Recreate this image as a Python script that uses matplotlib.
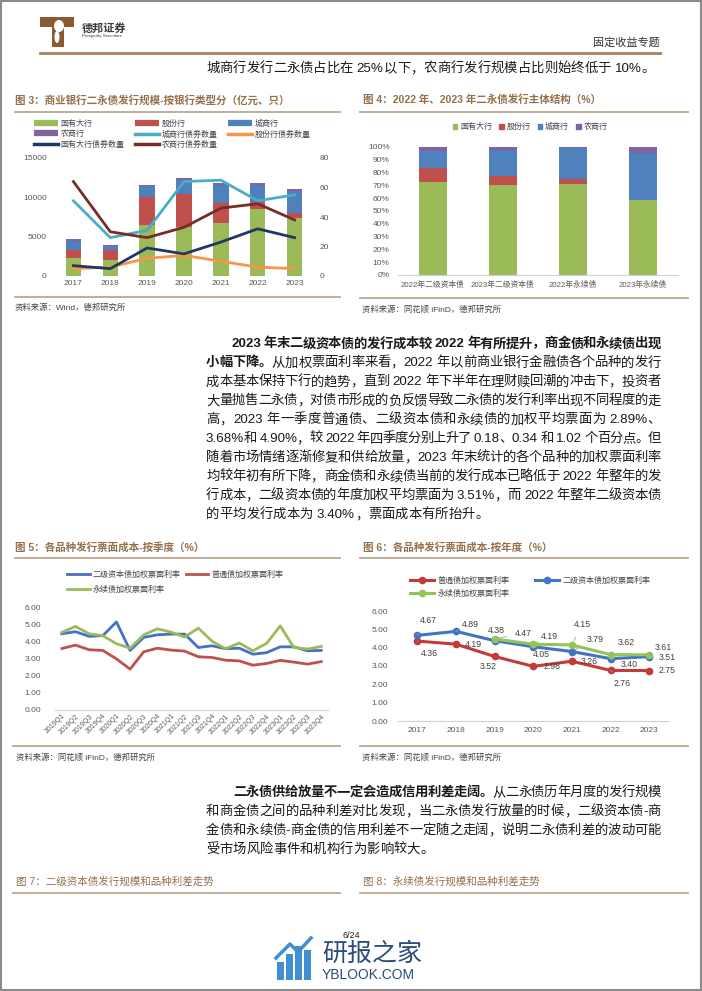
import re

import matplotlib
matplotlib.use("Agg")
import matplotlib.pyplot as plt
from matplotlib.lines import Line2D
from matplotlib.patches import Patch, Rectangle, Polygon, Ellipse

plt.rcParams["font.family"] = ["Liberation Sans", "Noto Sans CJK SC", "DejaVu Sans"]

W, H = 702, 991

# ---- figure 3: issuance by bank type (亿元) and bond counts (只)
years = ["2017", "2018", "2019", "2020", "2021", "2022", "2023"]
amt_big4 = [2330, 2030, 6530, 6230, 6780, 8560, 7370]
amt_joint = [975, 1230, 3510, 4240, 2540, 850, 680]
amt_city = [1145, 510, 1400, 1570, 2290, 2120, 2710]
amt_rural = [300, 210, 85, 420, 250, 255, 255]
cnt_city = [51, 26, 31, 64, 65, 51, 55]
cnt_joint = [5, 6, 12, 14, 10, 6, 5]
cnt_big4 = [7, 5, 19, 15, 23, 32, 26]
cnt_rural = [64, 30, 26, 33, 46, 49, 38]

# ---- figure 4: issuer structure (%)
struct_cats = ["2022年二级资本债", "2023年二级资本债", "2022年永续债", "2023年永续债"]
share_big4 = [72.3, 70.0, 71.3, 58.7]
share_joint = [11.0, 7.5, 3.4, 0.0]
share_city = [13.3, 19.9, 24.5, 36.6]
share_rural = [3.4, 2.6, 0.8, 4.7]

# ---- figure 5: quarterly weighted coupon (%)
quarters = [f"{y}Q{q}" for y in range(2019, 2024) for q in range(1, 5)]
q_tier2 = [4.44, 4.56, 4.29, 4.33, 5.13, 3.47, 4.23, 4.38, 4.42, 4.42,
           3.64, 3.74, 3.57, 3.60, 3.25, 3.34, 3.68, 3.68, 3.45, 3.47]
q_senior = [3.58, 3.78, 3.51, 3.47, 2.98, 2.38, 3.39, 3.60, 3.49, 3.43,
            3.10, 3.06, 2.90, 2.86, 2.61, 2.71, 2.89, 2.79, 2.67, 2.82]
q_perp = [4.52, 4.87, 4.44, 4.33, 3.86, 3.60, 4.38, 4.73, 4.54, 4.25,
          4.77, 4.01, 3.57, 3.90, 3.45, 3.88, 4.90, 3.64, 3.55, 3.70]

# ---- figure 6: annual weighted coupon (%)
a_years = ["2017", "2018", "2019", "2020", "2021", "2022", "2023"]
a_senior = [4.36, 4.19, 3.52, 2.98, 3.26, 2.76, 2.75]
a_tier2 = [4.67, 4.89, 4.38, 4.05, 3.79, 3.40, 3.51]
a_perp_years = ["2019", "2020", "2021", "2022", "2023"]
a_perp = [4.47, 4.19, 4.15, 3.62, 3.61]

GREEN, RED, BLUE, PURPLE = "#9BBB59", "#C0504D", "#4F81BD", "#8064A2"
CYAN, ORANGE, NAVY, MAROON = "#4BACC6", "#F79646", "#1F3864", "#772C2A"
TITLE_C = "#96704C"
RULE_C = "#BFA68C"
TXT = "#1a1a1a"
TICK_C = "#595959"

fig = plt.figure(figsize=(W / 100, H / 100), dpi=100)
renderer = fig.canvas.get_renderer()


def fx(x):
    return x / W


def fy(y):
    return 1 - y / H


def px_axes(x0, y0, x1, y1):
    return fig.add_axes([fx(x0), fy(y1), (x1 - x0) / W, (y1 - y0) / H])


def hline(x0, x1, y, color=RULE_C, lw=1.3):
    fig.add_artist(Line2D([fx(x0), fx(x1)], [fy(y), fy(y)], color=color, lw=lw))


def chart_title(x, y, text, bold=True):
    fig.text(fx(x), fy(y), text, fontsize=7.6, color=TITLE_C,
             fontweight="bold" if bold else "normal", va="center", ha="left")


def source(x, y, text):
    fig.text(fx(x), fy(y), text, fontsize=6, color="#444444", va="center", ha="left")


def body_line(y, segments, x0, x1, justify=True, size=9.6):
    toks = []
    for text, bold in segments:
        for tok in re.findall(r"[A-Za-z0-9.%\-]+|\s|.", text):
            toks.append((tok, bold))
    items = []
    for tok, bold in toks:
        if tok.isspace():
            items.append((None, size * 100 / 72 * 0.28))
            continue
        t = fig.text(0, fy(y + 4), tok, fontsize=size, color=TXT,
                     fontweight="bold" if bold else "normal", va="baseline", ha="left")
        items.append((t, t.get_window_extent(renderer).width))
    total = sum(w for _, w in items)
    gap = (x1 - x0 - total) / (len(items) - 1) if justify and len(items) > 1 else 0.0
    x = x0
    for t, w in items:
        if t is not None:
            t.set_x(fx(x))
        x += w + gap


def style_axes(ax, bottom=False):
    for s in ["top", "right", "left", "bottom"]:
        ax.spines[s].set_visible(False)
    if bottom:
        ax.spines["bottom"].set_visible(True)
        ax.spines["bottom"].set_color("#D0D0D0")
    ax.tick_params(length=0, colors=TICK_C, labelsize=6)


# ---------------- page frame and header
fig.add_artist(Rectangle((0.001, 0.001), 0.998, 0.998, fill=False, ec="#8a8a8a", lw=1.5))
fig.add_artist(Polygon([(fx(40), fy(17)), (fx(74), fy(17)), (fx(74), fy(27)), (fx(64), fy(27)),
                        (fx(64), fy(47)), (fx(52), fy(47)), (fx(52), fy(27)), (fx(40), fy(27))],
                       closed=True, fc="#8B5A33", ec="none"))
fig.add_artist(Ellipse((fx(59), fy(26)), 10 / W, 12 / H, fc="white", ec="none"))
fig.add_artist(Ellipse((fx(57), fy(37)), 5 / W, 12 / H, fc="white", ec="none"))
fig.text(fx(82), fy(28), "德邦证券", fontsize=8, fontweight="bold", color="#3a3a3a", va="center")
fig.text(fx(82), fy(36), "Prosperity Securities", fontsize=3.2, color="#3a3a3a", va="center")
fig.text(fx(660), fy(43), "固定收益专题", fontsize=8, color="#333333", va="center", ha="right")
hline(40, 660, 53, color="#A6825F", lw=2)
body_line(68, [("城商行发行二永债占比在 25%以下，农商行发行规模占比则始终低于 10%。", False)],
          206, 631, justify=False)

# ---------------- figure 3
chart_title(15, 100, "图 3：商业银行二永债发行规模-按银行类型分（亿元、只）")
hline(15, 340, 112)
ax3 = px_axes(55, 158, 313, 276)
x = range(len(years))
bw = 0.42
ax3.bar(x, amt_big4, bw, color=GREEN)
bot = amt_big4[:]
ax3.bar(x, amt_joint, bw, bottom=bot, color=RED)
bot = [a + b for a, b in zip(bot, amt_joint)]
ax3.bar(x, amt_city, bw, bottom=bot, color=BLUE)
bot = [a + b for a, b in zip(bot, amt_city)]
ax3.bar(x, amt_rural, bw, bottom=bot, color=PURPLE)
ax3.set_ylim(0, 15000)
ax3.set_yticks([0, 5000, 10000, 15000])
ax3.set_xlim(-0.5, len(years) - 0.5)
ax3.set_xticks(list(x))
ax3.set_xticklabels(years)
style_axes(ax3)
ax3.tick_params(axis="y", pad=6)
ax3.tick_params(axis="x", pad=3)
ax3r = ax3.twinx()
ax3r.plot(x, cnt_city, color=CYAN, lw=2)
ax3r.plot(x, cnt_joint, color=ORANGE, lw=2)
ax3r.plot(x, cnt_big4, color=NAVY, lw=2)
ax3r.plot(x, cnt_rural, color=MAROON, lw=2)
ax3r.set_ylim(0, 80)
ax3r.set_yticks([0, 20, 40, 60, 80])
style_axes(ax3r)
ax3r.tick_params(axis="y", pad=5)
h_bar = lambda c: Line2D([], [], color=c, lw=4.5, solid_capstyle="butt")
h_ln = lambda c: Line2D([], [], color=c, lw=2.5)
hs = [h_bar(GREEN), h_bar(PURPLE), h_ln(NAVY), h_bar(RED), h_ln(CYAN), h_ln(MAROON),
      h_bar(BLUE), h_ln(ORANGE)]
ls = ["国有大行", "农商行", "国有大行债券数量", "股份行", "城商行债券数量", "农商行债券数量",
      "城商行", "股份行债券数量"]
fig.legend(hs, ls, loc="upper left", bbox_to_anchor=(fx(30), fy(116)), ncol=3, frameon=False,
           fontsize=5.8, handlelength=3.0, handletextpad=0.3, columnspacing=1.3,
           labelspacing=0.25, borderpad=0, labelcolor="#444444")
hline(15, 340, 297)
source(15, 308, "资料来源：Wind，德邦研究所")

# ---------------- figure 4
chart_title(363, 100, "图 4：2022 年、2023 年二永债发行主体结构（%）")
hline(360, 688, 112)
ax4 = px_axes(398, 147, 678, 275)
x4 = range(len(struct_cats))
bw4 = 0.4
ax4.bar(x4, share_big4, bw4, color=GREEN)
bot = share_big4[:]
ax4.bar(x4, share_joint, bw4, bottom=bot, color=RED)
bot = [a + b for a, b in zip(bot, share_joint)]
ax4.bar(x4, share_city, bw4, bottom=bot, color=BLUE)
bot = [a + b for a, b in zip(bot, share_city)]
ax4.bar(x4, share_rural, bw4, bottom=bot, color=PURPLE)
ax4.set_ylim(0, 100)
ax4.set_yticks(range(0, 101, 10))
ax4.set_yticklabels([f"{v}%" for v in range(0, 101, 10)])
ax4.set_xlim(-0.5, len(struct_cats) - 0.5)
ax4.set_xticks(list(x4))
ax4.set_xticklabels(struct_cats)
style_axes(ax4, bottom=True)
ax4.tick_params(axis="y", pad=6)
ax4.tick_params(axis="x", pad=4, labelsize=5.6)
fig.legend([Patch(color=GREEN), Patch(color=RED), Patch(color=BLUE), Patch(color=PURPLE)],
           ["国有大行", "股份行", "城商行", "农商行"], loc="center",
           bbox_to_anchor=(fx(530), fy(127)), ncol=4, frameon=False, fontsize=5.8,
           handlelength=0.6, handleheight=0.6, handletextpad=0.3, columnspacing=0.9,
           labelcolor="#444444")
hline(360, 688, 298)
source(362, 309, "资料来源：同花顺 iFinD，德邦研究所")

# ---------------- paragraph 1
p1 = [
    [("2023 年末二级资本债的发行成本较 2022 年有所提升，商金债和永续债出现", True)],
    [("小幅下降。", True), ("从加权票面利率来看，2022 年以前商业银行金融债各个品种的发行", False)],
    [("成本基本保持下行的趋势，直到 2022 年下半年在理财赎回潮的冲击下，投资者", False)],
    [("大量抛售二永债，对债市形成的负反馈导致二永债的发行利率出现不同程度的走", False)],
    [("高，2023 年一季度普通债、二级资本债和永续债的加权平均票面为 2.89%、", False)],
    [("3.68%和 4.90%，较 2022 年四季度分别上升了 0.18、0.34 和 1.02 个百分点。但", False)],
    [("随着市场情绪逐渐修复和供给放量，2023 年末统计的各个品种的加权票面利率", False)],
    [("均较年初有所下降，商金债和永续债当前的发行成本已略低于 2022 年整年的发", False)],
    [("行成本，二级资本债的年度加权平均票面为 3.51%，而 2022 年整年二级资本债", False)],
    [("的平均发行成本为 3.40%，票面成本有所抬升。", False)],
]
for i, segs in enumerate(p1):
    x0 = 231 if i == 0 else 206
    body_line(343.5 + 18.95 * i, segs, x0, 661, justify=(i < len(p1) - 1))

# ---------------- figure 5
chart_title(15, 547, "图 5：各品种发行票面成本-按季度（%）")
hline(15, 340, 558)
ax5 = px_axes(55, 607, 328, 710)
xq = range(len(quarters))
p_t2, = ax5.plot(xq, q_tier2, color="#4472C4", lw=2)
p_sn, = ax5.plot(xq, q_senior, color=RED, lw=2)
p_pp, = ax5.plot(xq, q_perp, color=GREEN, lw=2)
ax5.set_ylim(0, 6)
ax5.set_yticks(range(0, 7))
ax5.set_yticklabels([f"{v:.2f}" for v in range(0, 7)])
ax5.set_xlim(-0.5, len(quarters) - 0.5)
ax5.set_xticks(list(xq))
ax5.set_xticklabels(quarters, rotation=45, ha="right", rotation_mode="anchor", fontsize=5)
style_axes(ax5, bottom=True)
ax5.tick_params(axis="y", pad=10)
ax5.tick_params(axis="x", pad=2, labelsize=5)
fig.legend([p_t2, p_pp, p_sn], ["二级资本债加权票面利率", "永续债加权票面利率", "普通债加权票面利率"],
           loc="upper left", bbox_to_anchor=(fx(63), fy(567)), ncol=2, frameon=False,
           fontsize=5.8, handlelength=2.8, handletextpad=0.4, columnspacing=0.6,
           labelspacing=0.85, borderpad=0, labelcolor="#444444")
hline(13, 340, 746)
source(16, 757, "资料来源：同花顺 iFinD，德邦研究所")

# ---------------- figure 6
chart_title(363, 547, "图 6：各品种发行票面成本-按年度（%）")
hline(360, 688, 558)
ax6 = px_axes(398, 611, 668.5, 721)
xa = range(len(a_years))
xp = [a_years.index(y) for y in a_perp_years]
r_sn, = ax6.plot(xa, a_senior, color="#C33A3A", lw=2.2, marker="o", ms=4.5)
r_t2, = ax6.plot(xa, a_tier2, color="#4472C4", lw=2.2, marker="o", ms=4.5)
r_pp, = ax6.plot(xp, a_perp, color="#92C457", lw=2.2, marker="o", ms=4.5)
ax6.set_ylim(0, 6)
ax6.set_yticks(range(0, 7))
ax6.set_yticklabels([f"{v:.2f}" for v in range(0, 7)])
ax6.set_xlim(-0.5, len(a_years) - 0.5)
ax6.set_xticks(list(xa))
ax6.set_xticklabels(a_years)
style_axes(ax6, bottom=True)
ax6.tick_params(axis="y", pad=7)
ax6.tick_params(axis="x", pad=4)

# label offsets in pixels (dx, dy up)
off_senior = [(12, -12), (17, 0), (-6, -10), (19, 0), (17, 0), (12, -13), (18, 0)]
off_tier2 = [(11, 15), (14, 7), (2, 10), (8, -8), (23, 12), (19, -6), (18, -1)]
off_perp = [(29, 6), (16, 8), (10, 20), (16, 12), (14, 7)]


def label_points(xs, vals, offs):
    for xv, v, (dx, dy) in zip(xs, vals, offs):
        lead = abs(dx) + abs(dy) > 20
        ax6.annotate(f"{v:.2f}", (xv, v), xytext=(dx, dy), textcoords="offset pixels",
                     ha="center", va="center", fontsize=6.3, color="#404040",
                     arrowprops=dict(arrowstyle="-", color="#A0A0A0", lw=0.6,
                                     shrinkA=4, shrinkB=3) if lead else None)


label_points(xa, a_senior, off_senior)
label_points(xa, a_tier2, off_tier2)
label_points(xp, a_perp, off_perp)
fig.legend([r_sn, r_pp, r_t2], ["普通债加权票面利率", "永续债加权票面利率", "二级资本债加权票面利率"],
           loc="upper left", bbox_to_anchor=(fx(406), fy(573)), ncol=2, frameon=False,
           fontsize=5.8, handlelength=3.0, handletextpad=0.4, columnspacing=3.2,
           labelspacing=0.55, borderpad=0, labelcolor="#444444")
hline(360, 688, 746)
source(362, 757, "资料来源：同花顺 iFinD，德邦研究所")

# ---------------- paragraph 2
p2 = [
    [("二永债供给放量不一定会造成信用利差走阔。", True), ("从二永债历年月度的发行规模", False)],
    [("和商金债之间的品种利差对比发现，当二永债发行放量的时候，二级资本债-商", False)],
    [("金债和永续债-商金债的信用利差不一定随之走阔，说明二永债利差的波动可能", False)],
    [("受市场风险事件和机构行为影响较大。", False)],
]
for i, segs in enumerate(p2):
    x0 = 233 if i == 0 else 206
    body_line(792 + 19 * i, segs, x0, 661, justify=(i < len(p2) - 1))

# ---------------- figures 7 / 8 headers
chart_title(16, 882, "图 7：二级资本债发行规模和品种利差走势", bold=False)
hline(13, 340, 893)
chart_title(363, 882, "图 8：永续债发行规模和品种利差走势", bold=False)
hline(360, 688, 893)

# ---------------- footer
fig.text(fx(351), fy(935), "6/24", fontsize=6.5, color="#222222", ha="center", va="center")
for bx, bh in [(277, 18), (286, 26), (295, 34), (304, 30)]:
    fig.add_artist(Rectangle((fx(bx), fy(980)), 7 / W, bh / H, fc="#3F8FD2", ec="none"))
fig.add_artist(Line2D([fx(276), fx(290), fx(298), fx(311)], [fy(958), fy(944), fy(952), fy(938)],
                      color="#3F8FD2", lw=2.5))
fig.text(fx(322), fy(954), "研报之家", fontsize=18, color="#2B4C7C", ha="left", va="center")
fig.text(fx(322), fy(975), "YBLOOK.COM", fontsize=10, color="#2B4C7C", ha="left", va="center")

fig.savefig("out.png", dpi=100)
